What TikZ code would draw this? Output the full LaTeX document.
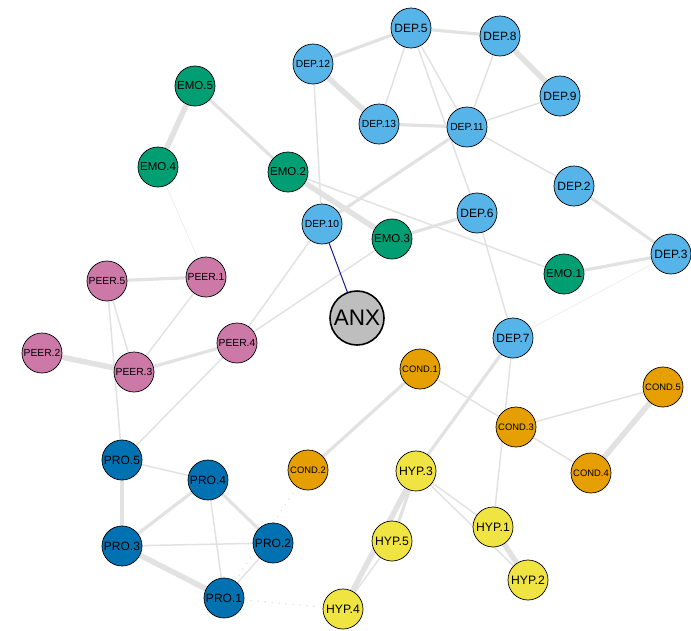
\documentclass[tikz,border=0pt]{standalone}
\usepackage{fontspec}
\setmainfont{Liberation Sans}
\usetikzlibrary{backgrounds}
\definecolor{depcol}{HTML}{56B4E9}
\definecolor{emocol}{HTML}{009E73}
\definecolor{peercol}{HTML}{CC79A7}
\definecolor{procol}{HTML}{0072B2}
\definecolor{condcol}{HTML}{E69F00}
\definecolor{hypcol}{HTML}{F0E442}
\definecolor{anxcol}{HTML}{BEBEBE}
\definecolor{edgecol}{HTML}{E2E2E2}
\definecolor{paleedge}{HTML}{EEEEEE}
\definecolor{linkcol}{HTML}{1A1A8C}
\begin{document}
\begin{tikzpicture}[x=1pt,y=-1pt,
item/.style={circle,draw=black,line width=0.7pt,minimum size=40pt,inner sep=0pt,
font=\fontsize{12}{12}\selectfont},
dep/.style={item,fill=depcol},
depx/.style={dep,font=\fontsize{10.3}{10.3}\selectfont},
emo/.style={item,fill=emocol,font=\fontsize{11.5}{11.5}\selectfont},
peer/.style={item,fill=peercol,font=\fontsize{10.3}{10.3}\selectfont},
pro/.style={item,fill=procol},
cond/.style={item,fill=condcol,font=\fontsize{9.4}{9.4}\selectfont},
hyp/.style={item,fill=hypcol,font=\fontsize{12.2}{12.2}\selectfont},
hub/.style={circle,draw=black,line width=1.6pt,minimum size=54pt,inner sep=0pt,
fill=anxcol,font=\fontsize{22.5}{22.5}\selectfont},
faint/.style={draw=paleedge,line width=0.8pt},
weak/.style={draw=edgecol,line width=1.5pt},
mid/.style={draw=edgecol,line width=3.2pt},
strong/.style={draw=edgecol,line width=5.5pt},
neg/.style={draw=edgecol,line width=1.8pt,line cap=round,dash pattern=on 0pt off 7pt},
link/.style={draw=linkcol,line width=1pt}]
\useasboundingbox (0,0) rectangle (691,630);
\node[dep] (dep5) at (411,28) {DEP.5};
\node[dep] (dep8) at (500,36) {DEP.8};
\node[depx] (dep12) at (313,64) {DEP.12};
\node[dep] (dep9) at (560,96) {DEP.9};
\node[depx] (dep13) at (379,124) {DEP.13};
\node[depx] (dep11) at (467,127) {DEP.11};
\node[dep] (dep2) at (574,186) {DEP.2};
\node[dep] (dep6) at (477,213) {DEP.6};
\node[depx] (dep10) at (322,224) {DEP.10};
\node[dep] (dep3) at (671,254) {DEP.3};
\node[dep] (dep7) at (513,338) {DEP.7};
\node[emo] (emo5) at (195,86) {EMO.5};
\node[emo] (emo4) at (158,167) {EMO.4};
\node[emo] (emo2) at (288,172) {EMO.2};
\node[emo] (emo3) at (392,239) {EMO.3};
\node[emo] (emo1) at (564,274) {EMO.1};
\node[hub] (anx) at (357,318) {ANX};
\node[peer] (peer5) at (107,281) {PEER.5};
\node[peer] (peer1) at (206,277) {PEER.1};
\node[peer] (peer2) at (42,353) {PEER.2};
\node[peer] (peer3) at (134,372) {PEER.3};
\node[peer] (peer4) at (237,343) {PEER.4};
\node[cond] (cond1) at (420,369) {COND.1};
\node[cond] (cond5) at (663,387) {COND.5};
\node[cond] (cond3) at (516,427) {COND.3};
\node[cond] (cond4) at (591,473) {COND.4};
\node[cond] (cond2) at (308,470) {COND.2};
\node[pro] (pro5) at (122,460) {PRO.5};
\node[pro] (pro4) at (208,480) {PRO.4};
\node[pro] (pro3) at (122,546) {PRO.3};
\node[pro] (pro2) at (273,543) {PRO.2};
\node[pro] (pro1) at (224,598) {PRO.1};
\node[hyp] (hyp3) at (416,471) {HYP.3};
\node[hyp] (hyp5) at (392,541) {HYP.5};
\node[hyp] (hyp1) at (493,527) {HYP.1};
\node[hyp] (hyp2) at (528,580) {HYP.2};
\node[hyp] (hyp4) at (343,609) {HYP.4};
\begin{scope}[on background layer]
\draw[mid] (dep5)--(dep12);
\draw[mid] (dep5)--(dep8);
\draw[weak] (dep5)--(dep13);
\draw[weak] (dep5)--(dep11);
\draw[weak] (dep5.center)--(dep6);
\draw[strong] (dep8)--(dep9);
\draw[weak] (dep8)--(dep11);
\draw[weak] (dep9)--(dep11);
\draw[strong] (dep12)--(dep13);
\draw[weak] (dep12)--(dep10);
\draw[mid] (dep13)--(dep11);
\draw[mid] (dep11)--(dep10);
\draw[weak] (dep11)--(dep2);
\draw[strong] (emo5)--(emo4);
\draw[mid] (emo5)--(emo2);
\draw[faint] (emo4)--(peer1);
\draw[strong] (emo2)--(emo3);
\draw[weak] (emo2)--(emo1);
\draw[weak] (dep10)--(peer4);
\draw[weak] (emo3)--(peer4);
\draw[mid] (emo3)--(dep6);
\draw[mid] (emo1)--(dep3);
\draw[mid] (dep2)--(dep3);
\draw[faint] (dep3)--(dep7);
\draw[weak] (dep6)--(dep7);
\draw[mid] (dep7)--(hyp3);
\draw[weak] (dep7.center)--(hyp1);
\draw[weak] (cond1)--(cond3);
\draw[mid] (cond1)--(cond2);
\draw[weak] (cond3)--(cond5);
\draw[weak] (cond3)--(cond4);
\draw[strong] (cond5)--(cond4);
\draw[mid] (hyp3)--(hyp5);
\draw[strong] (hyp3.center)--(hyp4);
\draw[weak] (hyp5)--(hyp4);
\draw[weak] (hyp3)--(hyp1);
\draw[weak] (hyp3.center)--(hyp2);
\draw[strong] (hyp1)--(hyp2);
\draw[weak] (pro5)--(pro4);
\draw[mid] (pro5)--(pro3);
\draw[weak] (pro5.center)--(peer5);
\draw[weak] (pro5)--(peer4);
\draw[mid] (pro4)--(pro3);
\draw[mid] (pro4)--(pro2);
\draw[weak] (pro4)--(pro1);
\draw[weak] (pro3)--(pro2);
\draw[strong] (pro3)--(pro1);
\draw[weak] (pro2)--(pro1);
\draw[neg] (pro1)--(cond2);
\draw[neg] (pro1)--(hyp4);
\draw[mid] (peer5)--(peer1);
\draw[weak] (peer5)--(peer3);
\draw[weak] (peer1)--(peer3);
\draw[strong] (peer2)--(peer3);
\draw[mid] (peer3)--(peer4);
\end{scope}
\draw[link] (dep10)--(anx);
\end{tikzpicture}
\end{document}
